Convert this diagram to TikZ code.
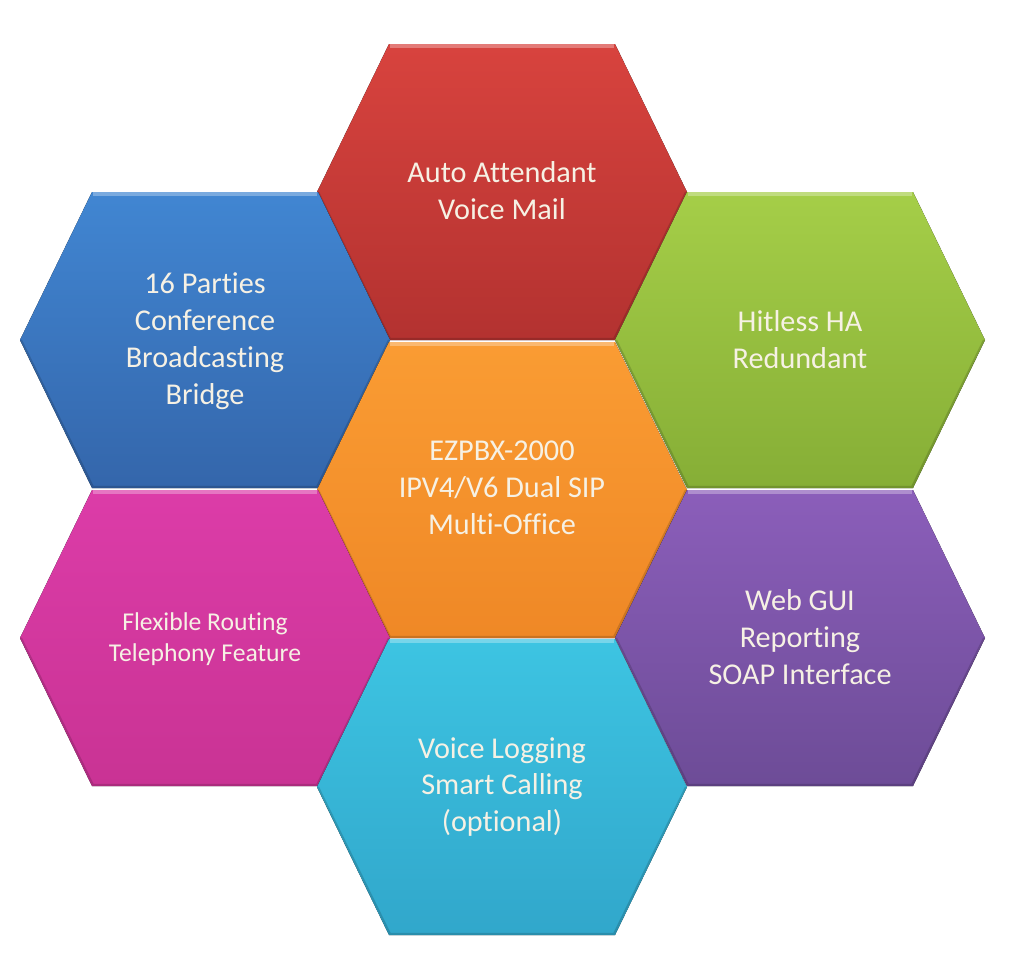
\documentclass[tikz,border=0pt]{standalone}
\usepackage{fontspec}
\setmainfont{Carlito}[Ligatures={NoCommon}]
\usetikzlibrary{positioning}

\definecolor{redT}{HTML}{D8433E}
\definecolor{redB}{HTML}{B33230}
\definecolor{blueT}{HTML}{4186D2}
\definecolor{blueB}{HTML}{3466AB}
\definecolor{greenT}{HTML}{A5CE48}
\definecolor{greenB}{HTML}{86AE36}
\definecolor{orangeT}{HTML}{FA9C33}
\definecolor{orangeB}{HTML}{EF8826}
\definecolor{pinkT}{HTML}{DC3CA8}
\definecolor{pinkB}{HTML}{C93394}
\definecolor{purpleT}{HTML}{8B5EBA}
\definecolor{purpleB}{HTML}{6D4C97}
\definecolor{cyanT}{HTML}{3DC4E2}
\definecolor{cyanB}{HTML}{31A7CB}
\definecolor{textcol}{RGB}{246,241,228}

% one cell: centre x, centre y, top colour, bottom colour
\newcommand{\hexcell}[4]{%
  \fill[top color=#3, bottom color=#4] (#1-185,#2) -- (#1-113,#2-148) -- (#1+113,#2-148) -- (#1+185,#2) -- (#1+113,#2+148) -- (#1-113,#2+148) -- cycle;
  \draw[white, opacity=0.3, line width=2pt] (#1-112,#2-146) -- (#1+112,#2-146);
  \draw[black, opacity=0.15, line width=1.2pt] (#1-184,#2) -- (#1-112,#2+147) -- (#1+112,#2+147) -- (#1+184,#2);
}

\begin{document}
\begin{tikzpicture}[x=0.02cm, y=-0.02cm, line join=round,
    hexlabel/.style={text=textcol, align=center, font=\fontsize{17.2}{21}\selectfont},
    smalllabel/.style={hexlabel, font=\fontsize{14.6}{17.6}\selectfont}]

    \useasboundingbox (0,0) rectangle (1024,961);

    \hexcell{502}{192}{redT}{redB}
    \hexcell{205}{340}{blueT}{blueB}
    \hexcell{800}{340}{greenT}{greenB}
    \hexcell{502}{490}{orangeT}{orangeB}
    \hexcell{205}{638}{pinkT}{pinkB}
    \hexcell{800}{638}{purpleT}{purpleB}
    \hexcell{502}{787}{cyanT}{cyanB}

    \node[hexlabel] (mail) at (502,191) {Auto Attendant\\Voice Mail};
    \node[hexlabel] (conf) at (205,341) {16 Parties\\Conference\\Broadcasting\\Bridge};
    \node[hexlabel] (ha) at (800,340) {Hitless HA\\Redundant};
    \node[hexlabel] (pbx) at (502,488) {EZPBX-2000\\IPV4/V6 Dual SIP\\Multi-Office};
    \node[smalllabel] (routing) at (205,639) {Flexible Routing\\Telephony Feature};
    \node[hexlabel] (gui) at (800,637) {Web GUI\\Reporting\\SOAP Interface};
    \node[hexlabel] (logging) at (502,787) {Voice Logging\\Smart Calling\\(optional)};

\end{tikzpicture}
\end{document}
